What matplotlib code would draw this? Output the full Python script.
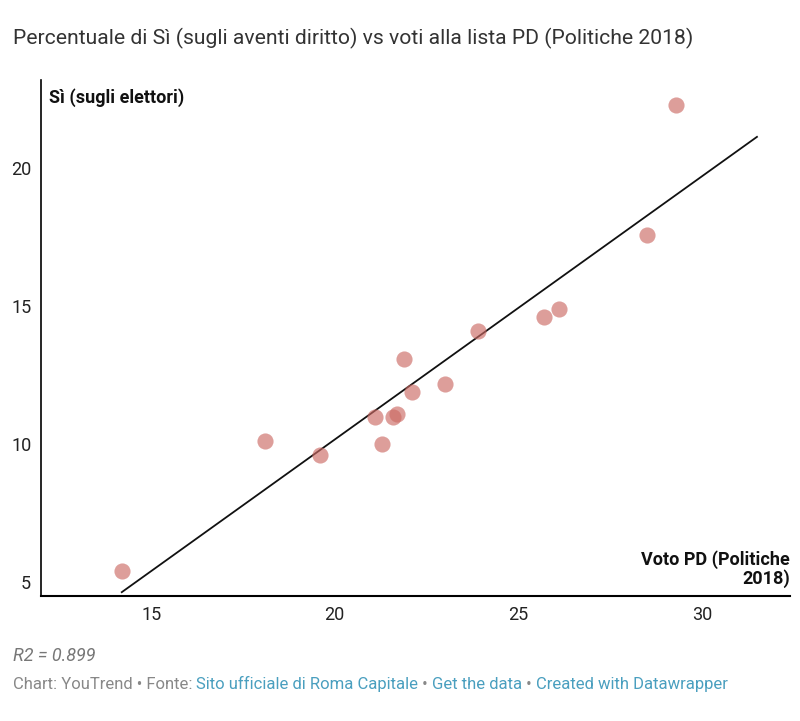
import matplotlib
matplotlib.use("Agg")
import matplotlib.pyplot as plt
import numpy as np

plt.rcParams['font.family'] = ['Roboto', 'DejaVu Sans']

# dati: voto PD (Politiche 2018) vs Sì (sugli elettori)
voto_pd = [14.2, 18.1, 19.6, 21.1, 21.3, 21.6, 21.7, 21.9, 22.1, 23.0, 23.9, 25.7, 26.1, 28.5, 29.3]
si_elettori = [5.4, 10.1, 9.6, 11.0, 10.0, 11.0, 11.1, 13.1, 11.9, 12.2, 14.1, 14.6, 14.9, 17.6, 22.3]
x_ticks = [15, 20, 25, 30]
y_ticks = [5, 10, 15, 20]
r2_label = "R2 = 0.899"

title = "Percentuale di Sì (sugli aventi diritto) vs voti alla lista PD (Politiche 2018)"
grey = '#888888'
blue = '#4a9fbf'

fig = plt.figure(figsize=(8, 7.21), dpi=100)
ax = fig.add_axes([0.05125, 0.1734, 0.93625, 0.7156])

# punti
ax.scatter(voto_pd, si_elettori, s=135, color='#cc6a64', alpha=0.65, linewidths=0, zorder=3)

# retta di regressione
coef = np.polyfit(voto_pd, si_elettori, 1)
reg_x = np.array([min(voto_pd), 31.5])
ax.plot(reg_x, np.polyval(coef, reg_x), color='#111111', lw=1.3, zorder=2)

ax.set_xlim(12, 32.4)
ax.set_ylim(4.5, 23.2)
ax.set_xticks(x_ticks)
ax.set_yticks(y_ticks)
ax.tick_params(length=0, labelsize=13, colors='#222222', pad=7)
for s in ['top', 'right']:
    ax.spines[s].set_visible(False)
ax.spines['left'].set_linewidth(1.2)
ax.spines['bottom'].set_linewidth(1.5)

ax.text(0.011, 0.985, "Sì (sugli elettori)", transform=ax.transAxes, ha='left', va='top',
        fontsize=13, fontweight='bold', color='#111111')
ax.text(1.0, 0.015, "Voto PD (Politiche\n2018)", transform=ax.transAxes, ha='right', va='bottom',
        fontsize=13, fontweight='bold', color='#111111', linespacing=1.05)

fig.text(0.016, 0.947, title, fontsize=15.2, color='#333333', va='center', ha='left')
fig.text(0.016, 0.09, r2_label, fontsize=13, color='#777777', style='italic', va='center')

# footer con link
pieces = [("Chart: YouTrend • Fonte: ", grey), ("Sito ufficiale di Roma Capitale", blue),
          (" • ", grey), ("Get the data", blue), (" • ", grey), ("Created with Datawrapper", blue)]
fig.canvas.draw()
r = fig.canvas.get_renderer()
x = 0.016
for txt, col in pieces:
    t = fig.text(x, 0.051, txt, fontsize=12, color=col, va='center', ha='left')
    bb = t.get_window_extent(renderer=r)
    x += bb.width / fig.bbox.width

fig.savefig("out.png", dpi=100, facecolor='white')
